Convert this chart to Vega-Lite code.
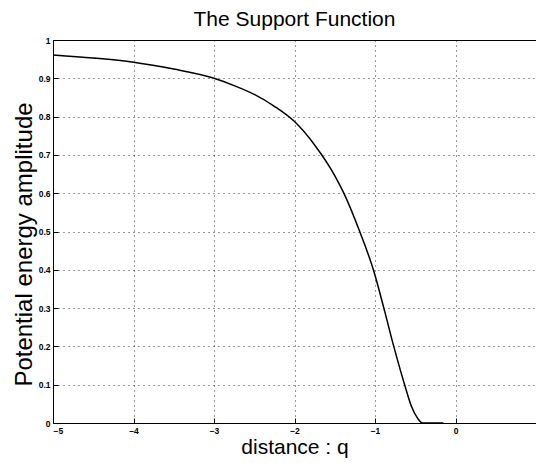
{
  "$schema": "https://vega.github.io/schema/vega-lite/v6.json",
  "width": 483,
  "height": 383,
  "padding": {"left": 53, "top": 40, "right": 0, "bottom": 40},
  "autosize": {"type": "none"},
  "background": "white",
  "title": {"text": "The Support Function", "font": "Liberation Sans", "fontSize": 21, "fontWeight": "normal", "color": "black", "offset": 6},
  "config": {
    "view": {"stroke": "black", "strokeWidth": 1},
    "axis": {
      "labelFont": "Liberation Sans", "labelFontSize": 8.5, "labelFontWeight": "bold", "labelColor": "black",
      "titleFont": "Liberation Sans", "titleFontWeight": "normal", "titleColor": "black",
      "domainColor": "black", "tickColor": "black", "tickSize": -5, "gridColor": "black", "gridDash": [1, 4], "gridWidth": 1, "gridOpacity": 0.8
    }
  },
  "data": {"values": [
    {"q": -5, "v": 0.961},
    {"q": -4.5, "v": 0.953},
    {"q": -4, "v": 0.942},
    {"q": -3.5, "v": 0.924},
    {"q": -3, "v": 0.9},
    {"q": -2.75, "v": 0.881},
    {"q": -2.5, "v": 0.858},
    {"q": -2.25, "v": 0.827},
    {"q": -2.0, "v": 0.787},
    {"q": -1.75, "v": 0.726},
    {"q": -1.5, "v": 0.646},
    {"q": -1.38, "v": 0.597},
    {"q": -1.19, "v": 0.5},
    {"q": -1.02, "v": 0.4},
    {"q": -0.89, "v": 0.3},
    {"q": -0.767, "v": 0.2},
    {"q": -0.632, "v": 0.1},
    {"q": -0.55, "v": 0.045},
    {"q": -0.47, "v": 0.012},
    {"q": -0.41, "v": 0.0},
    {"q": -0.15, "v": 0.0}
  ]},
  "mark": {"type": "line", "color": "black", "strokeWidth": 1.5, "interpolate": "monotone"},
  "encoding": {
    "x": {"field": "q", "type": "quantitative", "scale": {"domain": [-5, 1], "nice": false}, "title": "distance : q",
      "axis": {"values": [-5, -4, -3, -2, -1, 0], "format": "~g", "grid": true, "labelPadding": 8, "titlePadding": 2, "titleFontSize": 21}},
    "y": {"field": "v", "type": "quantitative", "scale": {"domain": [0, 1], "nice": false}, "title": "Potential energy amplitude",
      "axis": {"values": [0, 0.1, 0.2, 0.3, 0.4, 0.5, 0.6, 0.7, 0.8, 0.9, 1], "format": "~g", "grid": true, "labelPadding": 8, "titlePadding": 2, "titleFontSize": 24, "titleY": 204}}
  }
}
